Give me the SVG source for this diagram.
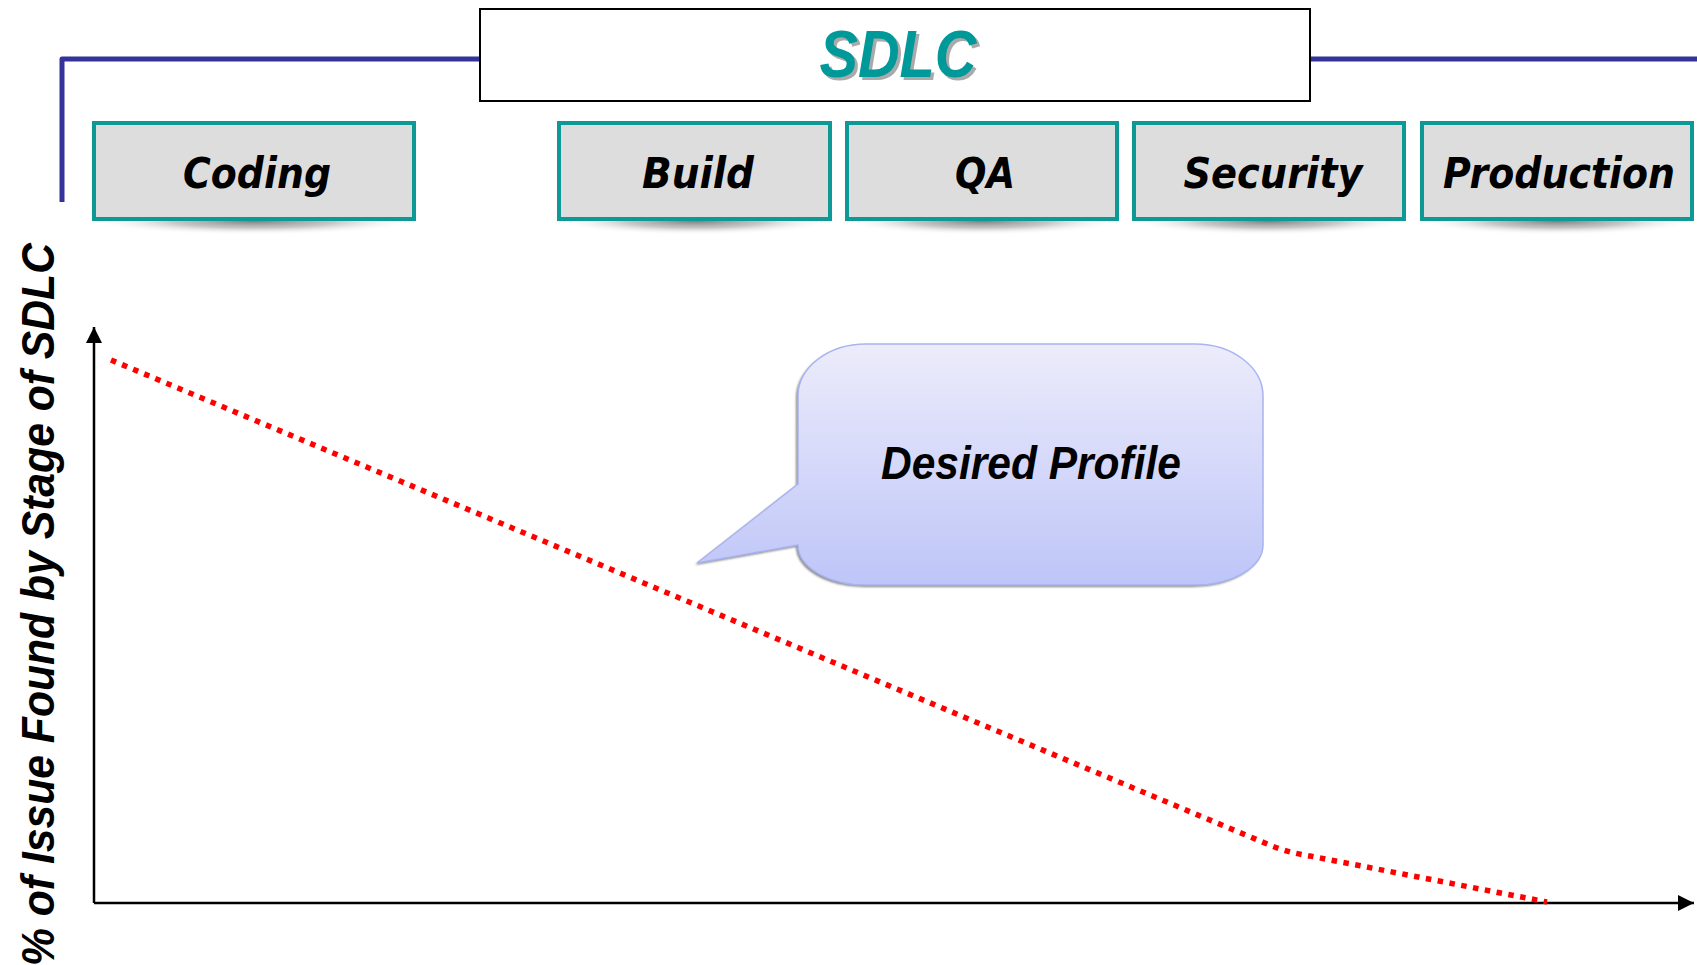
<svg xmlns="http://www.w3.org/2000/svg" width="1697" height="965" viewBox="0 0 1697 965">
  <style>
    .stage rect.box { fill: #dddddd; stroke: #0d9a96; stroke-width: 4; }
    .stage ellipse.shade { fill: url(#dropShade); }
    .stage text { font-family: "DejaVu Sans", "Liberation Sans", sans-serif; font-weight: bold; font-style: italic; font-size: 42px; fill: #000; text-anchor: middle; }
    .frame { fill: none; stroke: #333399; stroke-width: 5; stroke-linejoin: round; }
    .axis { fill: none; stroke: #000; stroke-width: 2.5; }
    .profile { fill: none; stroke: #ff0000; stroke-width: 5.5; stroke-dasharray: 5.5 6.5; stroke-linejoin: round; }
    .sans { font-family: "Liberation Sans", Arial, sans-serif; font-weight: bold; font-style: italic; }
  </style>
  <defs>
    <radialGradient id="dropShade" cx="0.5" cy="0.5" r="0.5">
      <stop offset="0" stop-color="#707070" stop-opacity="0.9"/>
      <stop offset="0.5" stop-color="#9a9a9a" stop-opacity="0.55"/>
      <stop offset="1" stop-color="#ffffff" stop-opacity="0"/>
    </radialGradient>
    <filter id="edge" x="-5%" y="-5%" width="110%" height="110%">
      <feGaussianBlur stdDeviation="0.8"/>
    </filter>
    <linearGradient id="bubbleFill" x1="0" y1="0" x2="0" y2="1">
      <stop offset="0" stop-color="#ececfb"/>
      <stop offset="1" stop-color="#bec5f8"/>
    </linearGradient>
    <marker id="arrow" viewBox="0 0 16 16" refX="16" refY="8" markerWidth="16" markerHeight="16" markerUnits="userSpaceOnUse" orient="auto">
      <path d="M0,0 L16,8 L0,16 Z" fill="#000"/>
    </marker>
  </defs>

  <rect width="1697" height="965" fill="#ffffff"/>

  <!-- bracket line running behind the title -->
  <g id="frame">
    <path class="frame" d="M62,202 V59 H480"/>
    <path class="frame" d="M1310,59 H1697"/>
  </g>

  <!-- title -->
  <g id="title">
    <rect x="480" y="9" width="830" height="92" fill="#ffffff" stroke="#000" stroke-width="2"/>
    <text class="sans" x="901" y="80" font-size="66" fill="#aaaaaa" text-anchor="middle" textLength="157" lengthAdjust="spacingAndGlyphs">SDLC</text>
    <text class="sans" x="898" y="77" font-size="66" fill="#009999" text-anchor="middle" textLength="157" lengthAdjust="spacingAndGlyphs">SDLC</text>
  </g>

  <!-- stages -->
  <g id="stage-coding" class="stage">
    <ellipse class="shade" cx="254" cy="221" rx="165" ry="14"/>
    <rect class="box" x="94" y="123" width="320" height="96"/>
    <text x="257" y="188" textLength="148" lengthAdjust="spacingAndGlyphs">Coding</text>
  </g>
  <g id="stage-build" class="stage">
    <ellipse class="shade" cx="695" cy="221" rx="140" ry="14"/>
    <rect class="box" x="559" y="123" width="271" height="96"/>
    <text x="698" y="188" textLength="112" lengthAdjust="spacingAndGlyphs">Build</text>
  </g>
  <g id="stage-qa" class="stage">
    <ellipse class="shade" cx="982" cy="221" rx="140" ry="14"/>
    <rect class="box" x="847" y="123" width="270" height="96"/>
    <text x="985" y="188" textLength="60" lengthAdjust="spacingAndGlyphs">QA</text>
  </g>
  <g id="stage-security" class="stage">
    <ellipse class="shade" cx="1269" cy="221" rx="140" ry="14"/>
    <rect class="box" x="1134" y="123" width="270" height="96"/>
    <text x="1273" y="188" textLength="179" lengthAdjust="spacingAndGlyphs">Security</text>
  </g>
  <g id="stage-production" class="stage">
    <ellipse class="shade" cx="1557" cy="221" rx="140" ry="14"/>
    <rect class="box" x="1422" y="123" width="270" height="96"/>
    <text x="1559" y="188" textLength="232" lengthAdjust="spacingAndGlyphs">Production</text>
  </g>

  <!-- chart axes and profile curve -->
  <g id="connectors">
    <line class="axis" x1="94" y1="903" x2="94" y2="327" marker-end="url(#arrow)"/>
    <line class="axis" x1="94" y1="903" x2="1694" y2="903" marker-end="url(#arrow)"/>
    <path class="profile" d="M111,360 L1272,846 Q1290,853 1310,856 L1547,902"/>
  </g>

  <!-- vertical axis caption -->
  <g id="y-label">
    <text class="sans" transform="translate(54,243) rotate(-90)" font-size="47" text-anchor="end" textLength="723" lengthAdjust="spacingAndGlyphs">% of Issue Found by Stage of SDLC</text>
  </g>

  <!-- callout -->
  <g id="callout">
    <path transform="translate(-2,2)" filter="url(#edge)" fill="#8a8a8a" d="M866,344 H1195 A68,52 0 0 1 1263,396 V545 A68,40 0 0 1 1195,585 H866 A68,40 0 0 1 798,545 L697,563 L798,484 V396 A68,52 0 0 1 866,344 Z"/>
    <path fill="url(#bubbleFill)" stroke="#a9b3f0" stroke-width="1.5" d="M866,344 H1195 A68,52 0 0 1 1263,396 V545 A68,40 0 0 1 1195,585 H866 A68,40 0 0 1 798,545 L697,563 L798,484 V396 A68,52 0 0 1 866,344 Z"/>
    <text class="sans" x="1031" y="479" font-size="47" text-anchor="middle" textLength="300" lengthAdjust="spacingAndGlyphs">Desired Profile</text>
  </g>
</svg>
